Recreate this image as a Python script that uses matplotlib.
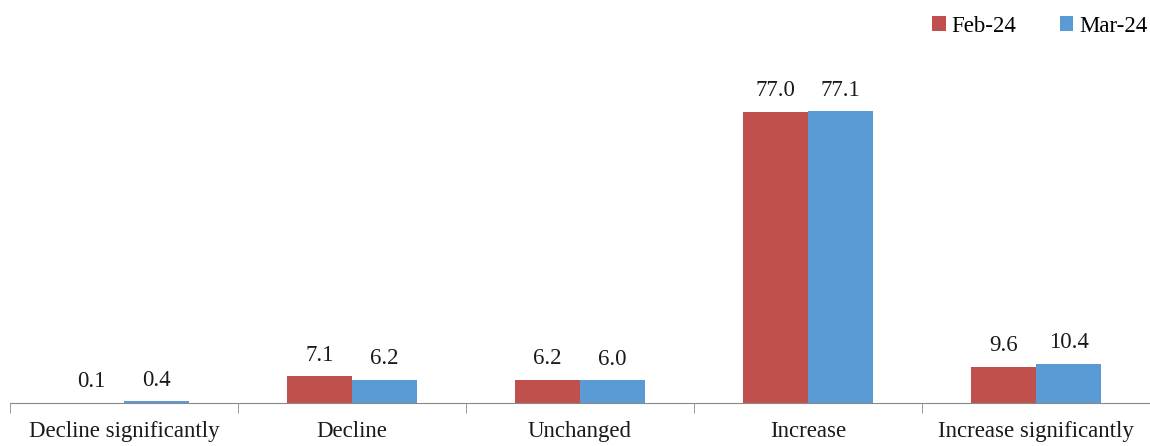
import matplotlib
matplotlib.use("Agg")
import matplotlib.pyplot as plt
import numpy as np

categories = ["Decline significantly", "Decline", "Unchanged", "Increase", "Increase significantly"]
feb24 = [0.1, 7.1, 6.2, 77.0, 9.6]
mar24 = [0.4, 6.2, 6.0, 77.1, 10.4]
series_names = ["Feb-24", "Mar-24"]

plt.rcParams['font.family'] = ['Liberation Serif', 'DejaVu Serif']

W, H = 1150, 446
fig = plt.figure(figsize=(W/100, H/100), dpi=100)
ax = fig.add_axes([10/W, 1 - 403/H, 1140/W, (403-40)/H])

x = np.arange(len(categories))
bw = 0.285
red = "#C0504D"
blue = "#5B9BD5"
b1 = ax.bar(x - bw/2, feb24, bw, color=red, label=series_names[0])
b2 = ax.bar(x + bw/2, mar24, bw, color=blue, label=series_names[1])

for bars, vals in ((b1, feb24), (b2, mar24)):
    for b, v in zip(bars, vals):
        ax.annotate(f"{v:.1f}", (b.get_x() + b.get_width()/2, v), xytext=(0, 7.5),
                    textcoords="offset points", ha="center", va="bottom", fontsize=16.5, color="#1a1a1a")

ax.set_xlim(-0.5, len(categories) - 0.5)
ax.set_ylim(0, 96)
for s in ["top", "right", "left"]:
    ax.spines[s].set_visible(False)
ax.spines["bottom"].set_color("#898989")
ax.set_yticks([])
ax.set_xticks(x)
ax.set_xticklabels(categories, fontsize=16.5, color="#1a1a1a")
ax.tick_params(axis="x", length=0, pad=13)
ax.set_xticks(np.arange(-0.5, len(categories)), minor=True)
ax.tick_params(axis="x", which="minor", length=7, color="#898989")

leg = fig.legend(handles=[b1, b2], labels=series_names, loc="upper right",
                 bbox_to_anchor=(1152/W, 1 - 11/H), ncol=2, frameon=False, fontsize=16.5,
                 borderaxespad=0.0, borderpad=0.2,
                 handlelength=0.6, handleheight=0.6, handletextpad=0.25, columnspacing=1.9)
fig.savefig("out.png", dpi=100)
